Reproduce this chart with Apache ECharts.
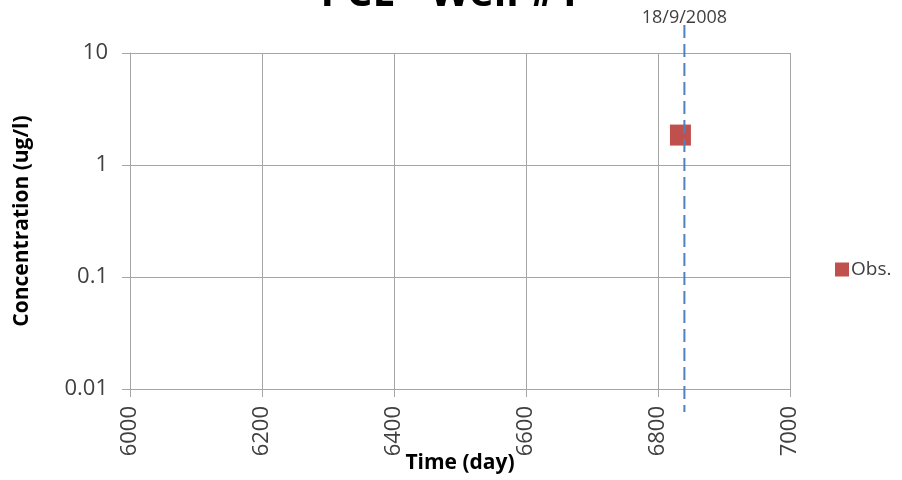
<!DOCTYPE html>
<html>
<head>
<meta charset="utf-8">
<script src="https://cdn.jsdelivr.net/npm/echarts@6/dist/echarts.min.js"></script>
<style>
  html, body { margin: 0; padding: 0; background: #ffffff; }
  #chart { width: 902px; height: 480px; }
</style>
</head>
<body>
<div id="chart"></div>
<script>
// Observed PCE concentration at well #1
const obsDays = [6834];
const obsConc = [1.85];

// Sampling event marker
const eventDay = 6840;
const eventLabel = '18/9/2008';

// Axis ticks
const xTicks = [6000, 6200, 6400, 6600, 6800, 7000];
const yTicks = [0.01, 0.1, 1, 10];

const FONT = '"Open Sans", sans-serif';
const TEXT = '#404040';
const GRID = '#a6a6a6';
const OBS_COLOR = '#c0504d';

const chart = echarts.init(document.getElementById('chart'), null, { renderer: 'canvas' });

const option = {
  animation: false,
  backgroundColor: '#ffffff',
  title: {
    text: 'PCE - Well #1',
    left: 445,
    textAlign: 'center',
    top: -31,
    textStyle: { fontFamily: FONT, fontSize: 41, fontWeight: 'bold', color: '#000000' }
  },
  grid: {
    left: 130, right: 112, top: 53, bottom: 91,
    containLabel: false,
    outerBoundsMode: 'none'
  },
  legend: {
    left: 830,
    top: 255,
    orient: 'vertical',
    itemWidth: 14,
    itemHeight: 14,
    itemGap: 6,
    icon: 'rect',
    data: ['Obs.'],
    itemStyle: { color: OBS_COLOR, opacity: 1, borderWidth: 0 },
    textStyle: { fontFamily: FONT, fontSize: 19, color: TEXT, padding: [0, 0, 0, -3] }
  },
  xAxis: {
    type: 'value',
    min: xTicks[0],
    max: xTicks[xTicks.length - 1],
    interval: 200,
    name: 'Time (day)',
    nameLocation: 'middle',
    nameGap: 64,
    nameMoveOverlap: false,
    nameTextStyle: { fontFamily: FONT, fontSize: 21, fontWeight: 'bold', color: '#000000' },
    axisLine: { show: true, lineStyle: { color: GRID, width: 1 } },
    axisTick: { show: true, inside: false, length: 8, lineStyle: { color: GRID } },
    axisLabel: {
      rotate: 90, margin: 17, fontFamily: FONT, fontSize: 22, color: TEXT,
      formatter: function (v) { return String(v); }
    },
    splitLine: { show: true, lineStyle: { color: GRID, width: 1 } }
  },
  yAxis: {
    type: 'log',
    logBase: 10,
    min: yTicks[0],
    max: yTicks[yTicks.length - 1],
    name: 'Concentration (ug/l)',
    nameLocation: 'middle',
    nameGap: 97,
    nameMoveOverlap: false,
    nameTextStyle: { fontFamily: FONT, fontSize: 21, fontWeight: 'bold', color: '#000000' },
    axisLine: { show: true, lineStyle: { color: GRID, width: 1 } },
    axisTick: { show: true, inside: false, length: 8, lineStyle: { color: GRID } },
    axisLabel: {
      margin: 22, fontFamily: FONT, fontSize: 22, color: TEXT,
      formatter: function (v) { return String(Number(v.toPrecision(6))); }
    },
    splitLine: { show: true, lineStyle: { color: GRID, width: 1 } }
  },
  series: [
    {
      name: 'Obs.',
      type: 'scatter',
      symbol: 'rect',
      symbolSize: 21,
      itemStyle: { color: OBS_COLOR, opacity: 1, borderWidth: 0 },
      data: obsDays.map((d, i) => [d, obsConc[i]]),
      z: 3
    }
  ]
};

chart.setOption(option);

// Dashed vertical event line, running past the plot area, with its date label on top
const lineTop = chart.convertToPixel({ gridIndex: 0 }, [eventDay, yTicks[yTicks.length - 1]]);
const lineBottom = chart.convertToPixel({ gridIndex: 0 }, [eventDay, yTicks[0]]);
chart.setOption({
  graphic: [
    {
      type: 'line',
      z: 10,
      shape: { x1: lineTop[0], y1: lineTop[1] - 28, x2: lineBottom[0], y2: lineBottom[1] + 23 },
      style: { stroke: '#4f81bd', lineWidth: 2, lineDash: [13, 6] }
    },
    {
      type: 'text',
      z: 10,
      x: lineTop[0],
      y: lineTop[1] - 26,
      style: {
        text: eventLabel,
        fontFamily: FONT,
        fontSize: 18,
        fill: TEXT,
        align: 'center',
        verticalAlign: 'bottom'
      }
    }
  ]
});
</script>
</body>
</html>
